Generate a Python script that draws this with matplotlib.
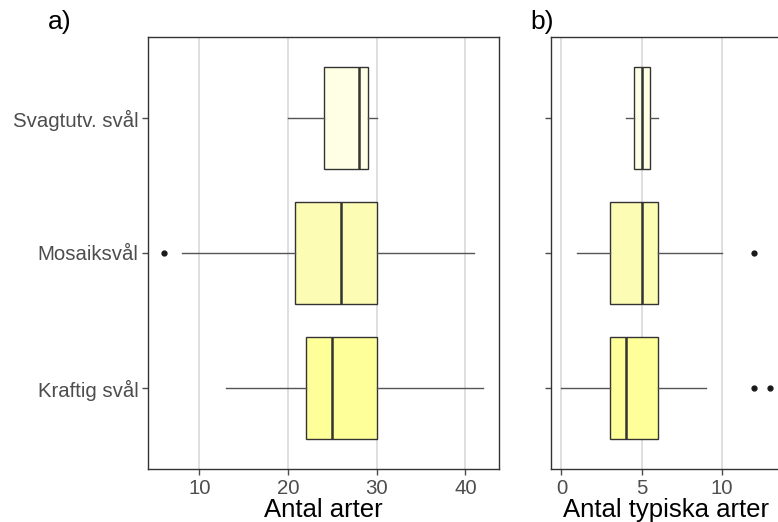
import matplotlib
matplotlib.use("Agg")
import matplotlib.pyplot as plt

plt.rcParams['font.family'] = ['Liberation Sans', 'DejaVu Sans']

categories = ["Kraftig svål", "Mosaiksvål", "Svagtutv. svål"]
fills = ["#FFFF99", "#FCFCB4", "#FFFFE6"]

# Panel a: Antal arter
a_whislo = [13, 8, 20]
a_q1 = [22, 20.75, 24]
a_med = [25, 26, 28]
a_q3 = [30, 30, 29]
a_whishi = [42, 41, 30]
a_fliers = [[], [6], []]

# Panel b: Antal typiska arter
b_whislo = [0, 1, 4]
b_q1 = [3, 3, 4.5]
b_med = [4, 5, 5]
b_q3 = [6, 6, 5.5]
b_whishi = [9, 10, 6]
b_fliers = [[12, 13], [12], []]

a_ticks = [10, 20, 30, 40]
b_ticks = [0, 5, 10]

W, H = 778, 522
fig = plt.figure(figsize=(W / 100, H / 100), dpi=100)

def frac(left, top, right, bottom):
    return [left / W, 1 - bottom / H, (right - left) / W, (bottom - top) / H]

ax_a = fig.add_axes(frac(148, 37, 499, 469))
ax_b = fig.add_axes(frac(551, 37, 780.5, 469))

def draw(ax, whislo, q1, med, q3, whishi, fliers, ticks, xlim, xlabel, label_y):
    stats = []
    for i in range(len(categories)):
        stats.append(dict(whislo=whislo[i], q1=q1[i], med=med[i], q3=q3[i],
                          whishi=whishi[i], fliers=fliers[i], label=categories[i]))
    pos = [1, 2, 3]
    bp = ax.bxp(stats, positions=pos, vert=False, widths=0.75, patch_artist=True,
                showcaps=False, zorder=3,
                boxprops=dict(edgecolor="#333333", linewidth=1.0),
                whiskerprops=dict(color="#555555", linewidth=1.0),
                medianprops=dict(color="#333333", linewidth=1.8),
                flierprops=dict(marker="o", markersize=3.5, markerfacecolor="#1a1a1a",
                                markeredgecolor="#1a1a1a"))
    for patch, c in zip(bp["boxes"], fills):
        patch.set_facecolor(c)
    ax.set_xlim(*xlim)
    ax.set_ylim(0.4, 3.6)
    ax.set_xticks(ticks)
    ax.set_xticklabels([str(t) for t in ticks])
    ax.set_yticks(pos)
    if label_y:
        ax.set_yticklabels(categories)
    else:
        ax.set_yticklabels([])
    ax.grid(axis="x", color="#D9D9D9", linewidth=1.2, zorder=0)
    ax.set_axisbelow(True)
    ax.tick_params(axis="both", labelsize=14.7, colors="#4D4D4D", length=4, width=1,
                   labelcolor="#4D4D4D", pad=3)
    ax.set_xlabel(xlabel, fontsize=18.5, color="black", labelpad=0.5)
    for s in ax.spines.values():
        s.set_color("#333333")
        s.set_linewidth(1.0)

draw(ax_a, a_whislo, a_q1, a_med, a_q3, a_whishi, a_fliers, a_ticks, (4.2, 43.8),
     "Antal arter", True)
draw(ax_b, b_whislo, b_q1, b_med, b_q3, b_whishi, b_fliers, b_ticks, (-0.65, 13.65),
     "Antal typiska arter", False)

fig.text(48 / W, 1 - 22 / H, "a)", fontsize=19, va="center", ha="left")
fig.text(530 / W, 1 - 22 / H, "b)", fontsize=19, va="center", ha="left")

fig.savefig("out.png", dpi=100)
